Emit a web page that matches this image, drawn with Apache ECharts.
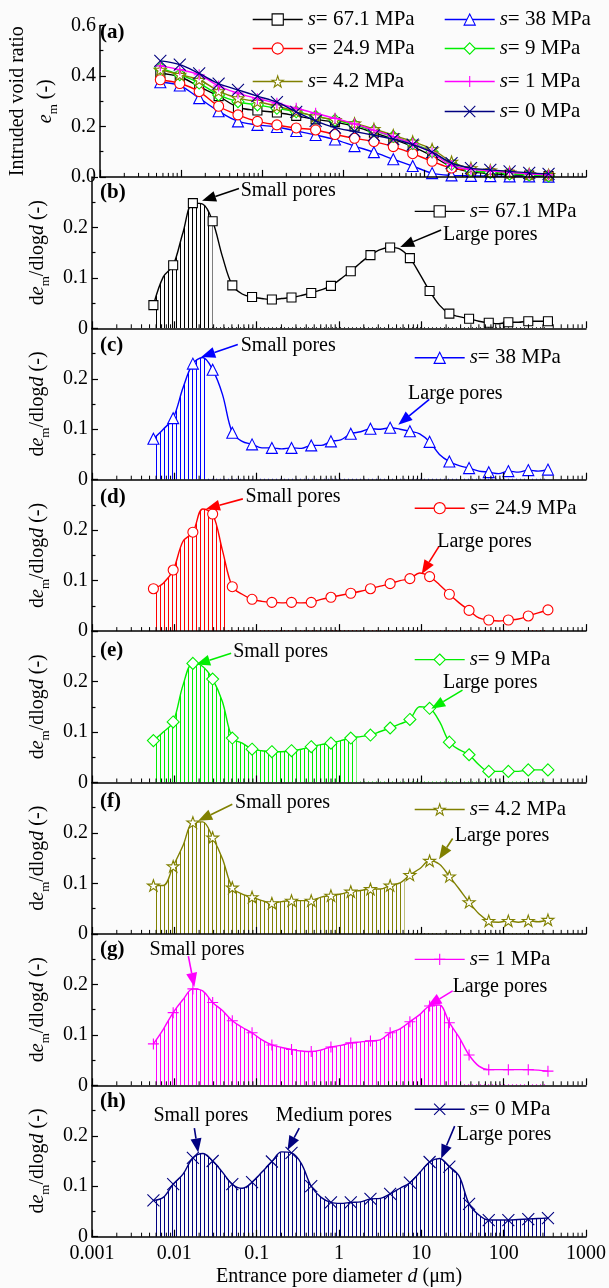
<!DOCTYPE html>
<html><head><meta charset="utf-8">
<script src="https://cdn.jsdelivr.net/npm/echarts@6/dist/echarts.min.js"></script>
<style>html,body{margin:0;padding:0;background:#fbfbfb}#c{width:609px;height:1288px}</style>
</head><body><div id="c"></div>
<script>
// ---------- data ----------
const dMarkers = [0.00557, 0.00968, 0.0168, 0.0292, 0.0506, 0.0879, 0.153, 0.265, 0.460, 0.798, 1.39, 2.41, 4.18, 7.26, 12.6, 21.9, 38.0, 65.9, 114, 199, 345];
const dMid = [0.00734, 0.01275, 0.0221, 0.0384, 0.0667, 0.116, 0.201, 0.349, 0.606, 1.05, 1.83, 3.17, 5.51, 9.55, 16.6, 28.8, 50.0, 86.9, 151, 262];

// panel (a): intruded void ratio
const a67 = [0.41, 0.397, 0.358, 0.32, 0.276, 0.263, 0.255, 0.242, 0.228, 0.217, 0.2, 0.175, 0.15, 0.12, 0.083, 0.04, 0.02, 0.013, 0.008, 0.005, 0.003];
const a38 = [0.375, 0.362, 0.312, 0.26, 0.22, 0.206, 0.198, 0.182, 0.166, 0.148, 0.122, 0.098, 0.07, 0.043, 0.015, 0.006, 0.004, 0.003, 0.002, 0.002, 0.001];
const a249 = [0.385, 0.37, 0.338, 0.28, 0.246, 0.22, 0.206, 0.194, 0.186, 0.168, 0.153, 0.14, 0.12, 0.092, 0.062, 0.035, 0.025, 0.018, 0.012, 0.007, 0.004];
const a9 = [0.43, 0.405, 0.372, 0.325, 0.298, 0.285, 0.272, 0.258, 0.24, 0.225, 0.205, 0.183, 0.16, 0.132, 0.1, 0.05, 0.025, 0.018, 0.012, 0.008, 0.004];
const a42 = [0.425, 0.405, 0.385, 0.34, 0.312, 0.298, 0.28, 0.26, 0.24, 0.226, 0.212, 0.19, 0.165, 0.14, 0.11, 0.06, 0.035, 0.026, 0.018, 0.012, 0.008];
const a1 = [0.44, 0.425, 0.405, 0.36, 0.332, 0.31, 0.292, 0.272, 0.252, 0.232, 0.21, 0.185, 0.16, 0.132, 0.095, 0.045, 0.03, 0.024, 0.018, 0.012, 0.008];
const a0 = [0.46, 0.445, 0.41, 0.37, 0.345, 0.32, 0.296, 0.258, 0.222, 0.195, 0.18, 0.165, 0.15, 0.128, 0.098, 0.055, 0.035, 0.028, 0.022, 0.016, 0.012];

// panels (b)-(h): de_m/dlogd at the markers and between them
const b67 = [0.046, 0.125, 0.248, 0.212, 0.085, 0.062, 0.057, 0.061, 0.070, 0.084, 0.113, 0.145, 0.160, 0.139, 0.074, 0.029, 0.019, 0.011, 0.012, 0.014, 0.014];
const b67Mid = [0.102, 0.19, 0.246, 0.142, 0.068, 0.059, 0.059, 0.065, 0.076, 0.098, 0.130, 0.156, 0.157, 0.108, 0.046, 0.023, 0.014, 0.009, 0.012, 0.014];
const c38 = [0.081, 0.122, 0.23, 0.218, 0.093, 0.07, 0.063, 0.063, 0.068, 0.076, 0.091, 0.101, 0.103, 0.096, 0.075, 0.036, 0.023, 0.015, 0.017, 0.019, 0.02];
const c38Mid = [0.1, 0.182, 0.242, 0.169, 0.076, 0.063, 0.061, 0.062, 0.068, 0.079, 0.095, 0.1, 0.1, 0.091, 0.05, 0.028, 0.017, 0.012, 0.015, 0.017];
const d249 = [0.084, 0.121, 0.196, 0.232, 0.088, 0.063, 0.057, 0.057, 0.057, 0.067, 0.075, 0.084, 0.094, 0.104, 0.108, 0.073, 0.041, 0.022, 0.022, 0.03, 0.042];
const d249Mid = [0.095, 0.178, 0.242, 0.16, 0.073, 0.059, 0.056, 0.056, 0.063, 0.071, 0.079, 0.089, 0.1, 0.115, 0.092, 0.056, 0.026, 0.02, 0.024, 0.036];
const e9 = [0.083, 0.12, 0.236, 0.205, 0.088, 0.066, 0.061, 0.063, 0.071, 0.078, 0.088, 0.094, 0.108, 0.125, 0.147, 0.08, 0.055, 0.022, 0.022, 0.025, 0.025];
const e9Mid = [0.1, 0.193, 0.23, 0.16, 0.078, 0.063, 0.061, 0.066, 0.075, 0.083, 0.091, 0.101, 0.116, 0.15, 0.121, 0.065, 0.035, 0.022, 0.022, 0.025];
const f42 = [0.096, 0.134, 0.221, 0.191, 0.092, 0.073, 0.061, 0.066, 0.066, 0.076, 0.084, 0.089, 0.096, 0.117, 0.145, 0.114, 0.063, 0.026, 0.026, 0.026, 0.028];
const f42Mid = [0.096, 0.175, 0.222, 0.149, 0.079, 0.066, 0.064, 0.066, 0.073, 0.079, 0.086, 0.089, 0.101, 0.129, 0.138, 0.089, 0.04, 0.023, 0.023, 0.024];
const g1 = [0.082, 0.144, 0.191, 0.164, 0.128, 0.104, 0.08, 0.071, 0.067, 0.076, 0.084, 0.088, 0.104, 0.126, 0.157, 0.124, 0.06, 0.031, 0.031, 0.031, 0.028];
const g1Mid = [0.111, 0.17, 0.187, 0.148, 0.115, 0.09, 0.075, 0.068, 0.07, 0.079, 0.086, 0.09, 0.112, 0.14, 0.159, 0.095, 0.038, 0.031, 0.031, 0.030];
const h0 = [0.072, 0.104, 0.156, 0.15, 0.104, 0.108, 0.149, 0.166, 0.1, 0.068, 0.068, 0.075, 0.085, 0.107, 0.148, 0.139, 0.065, 0.033, 0.033, 0.035, 0.037];
const h0Mid = [0.078, 0.124, 0.165, 0.128, 0.096, 0.128, 0.168, 0.145, 0.078, 0.066, 0.069, 0.076, 0.096, 0.127, 0.155, 0.12, 0.043, 0.033, 0.034, 0.036];

// upper diameter limit of the hatched range in each panel (b..h)
const hatchEnds = [0.028, 0.023, 0.041, 1.6, 6.0, 30, 345];

// tick labels
const xTickLabels = ['0.001', '0.01', '0.1', '1', '10', '100', '1000'];
const xMinorMult = [2, 3, 4, 5, 6, 7, 8, 9];
const xDecades = [0.001, 0.01, 0.1, 1, 10, 100];
const yTickLabelsA = ['0.0', '0.2', '0.4', '0.6'];
const yTickLabelsB = ['0', '0.1', '0.2', ''];
const seriesNames = ['s= 67.1 MPa', 's= 38 MPa', 's= 24.9 MPa', 's= 9 MPa', 's= 4.2 MPa', 's= 1 MPa', 's= 0 MPa'];

// ---------- styles / layout ----------
const FONT = '"Liberation Serif", "Times New Roman", serif';
const BG = '#fbfbfb';
const FS = 20;
const GL = 92, GR = 23, TOP = 25.5, PH = 151.4;
const STAR = 'path://M50,2 L61.2,36.2 L97,36.2 L68,57.4 L79,91.6 L50,70.4 L21,91.6 L32,57.4 L3,36.2 L38.8,36.2 Z';
const PLUS = 'path://M0,50 L100,50 M50,0 L50,100';
const CROSS = 'path://M0,0 L100,100 M100,0 L0,100';
const styles = [
  {color: '#000000', symbol: 'rect', size: 9, fill: '#fff'},
  {color: '#0000ff', symbol: 'triangle', size: 11, fill: '#fff'},
  {color: '#ff0000', symbol: 'circle', size: 10, fill: '#fff'},
  {color: '#00ee00', symbol: 'diamond', size: 12, fill: '#fff'},
  {color: '#808000', symbol: STAR, size: 12, fill: '#fff'},
  {color: '#ff00ff', symbol: PLUS, size: 11, fill: 'rgba(0,0,0,0)'},
  {color: '#000080', symbol: CROSS, size: 12, fill: 'rgba(0,0,0,0)'}
];
const aData = [a67, a38, a249, a9, a42, a1, a0];
const bhData = [[b67, b67Mid], [c38, c38Mid], [d249, d249Mid], [e9, e9Mid], [f42, f42Mid], [g1, g1Mid], [h0, h0Mid]];
const panelLabels = ['(a)', '(b)', '(c)', '(d)', '(e)', '(f)', '(g)', '(h)'];
const labelOffsets = [9, 17, 19, 19, 21, 21, 17, 18];
const legendOffsetsBH = [36, 31, 30, 30, 28.5, 27, 25.5];

// annotation positions in data coordinates (diameter, value)
const annotations = [
  {texts: [['Small pores', 0.064, 0.273], ['Large pores', 18.3, 0.186]],
   arrows: [[[0.061, 0.277], [0.0217, 0.2526]], [[17.4, 0.195], [5.55, 0.161]]]},
  {texts: [['Small pores', 0.064, 0.265], ['Large pores', 6.9, 0.170]],
   arrows: [[[0.059, 0.268], [0.0212, 0.243]], [[12.5, 0.159], [5.25, 0.109]]]},
  {texts: [['Small pores', 0.0733, 0.266], ['Large pores', 15.6, 0.178]],
   arrows: [[[0.0679, 0.262], [0.0242, 0.242]], [[16.4, 0.168], [10.1, 0.113]]]},
  {texts: [['Small pores', 0.0518, 0.259], ['Large pores', 18.3, 0.197]],
   arrows: [[[0.049, 0.256], [0.0184, 0.234]], [[31.6, 0.183], [13.2, 0.146]]]},
  {texts: [['Small pores', 0.0547, 0.259], ['Large pores', 25.4, 0.195]],
   arrows: [[[0.0506, 0.257], [0.0195, 0.224]], [[24.0, 0.189], [16.4, 0.148]]]},
  {texts: [['Small pores', 0.0050, 0.269], ['Large pores', 24.0, 0.195]],
   arrows: [[[0.0148, 0.256], [0.0175, 0.195]], [[24.0, 0.187], [11.9, 0.157]]]},
  {texts: [['Small pores', 0.00557, 0.239], ['Medium pores', 0.171, 0.239], ['Large pores', 26.9, 0.203]],
   arrows: [[[0.0175, 0.215], [0.0195, 0.167]], [[0.329, 0.215], [0.237, 0.172]], [[25.4, 0.219], [17.4, 0.155]]]}
];

const chart = echarts.init(document.getElementById('c'), null, {width: 609, height: 1288});
const plotW = 609 - GL - GR;
const hatchStep = Math.max(3, Math.floor(plotW / 6 * 0.2396 / 4));
function hatchPattern(color) {
  const c = document.createElement('canvas');
  c.width = hatchStep; c.height = 8;
  const g = c.getContext('2d');
  g.fillStyle = color; g.fillRect(0, 0, 1, 8);
  return c;
}
const xMinor = [];
xDecades.forEach(d => xMinorMult.forEach(m => xMinor.push(d * m)));

const richBase = {
  n: {fontFamily: FONT, fontSize: FS, color: '#000', lineHeight: 28},
  i: {fontFamily: FONT, fontSize: FS, fontStyle: 'italic', color: '#000', lineHeight: 28},
  s: {fontFamily: FONT, fontSize: 13, color: '#000', lineHeight: 13, verticalAlign: 'bottom'}
};

const grid = [], xAxis = [], yAxis = [], series = [], legend = [], graphic = [];
for (let g = 0; g < 8; g++) {
  grid.push({left: GL, right: GR, top: TOP + g * PH, height: PH});
  xAxis.push({
    gridIndex: g, type: 'log', logBase: 10, min: 0.001, max: 1000, z: 5,
    axisLine: {onZero: false, lineStyle: {color: '#000', width: 1.5}},
    axisTick: {inside: true, length: 7, lineStyle: {color: '#000', width: 1.2}},
    splitLine: {show: false},
    axisLabel: {show: g === 7, color: '#000', fontFamily: FONT, fontSize: FS, margin: 7,
      formatter: v => xTickLabels[Math.round(Math.log10(v)) + 3]},
    name: g === 7 ? '{n|Entrance pore diameter }{i|d}{n| (μm)}' : '',
    nameLocation: 'middle', nameGap: 26,
    nameTextStyle: {rich: richBase}
  });
  const isA = g === 0;
  yAxis.push({
    gridIndex: g, type: 'value', min: 0, max: isA ? 0.6 : 0.3, interval: isA ? 0.2 : 0.1, z: 5,
    axisLine: {show: true, lineStyle: {color: '#000', width: 1.5}},
    axisTick: {inside: true, length: 6, lineStyle: {color: '#000', width: 1.2}},
    minorTick: {show: true, splitNumber: 2, length: 3.5, lineStyle: {color: '#000', width: 1.2}},
    splitLine: {show: false},
    axisLabel: {color: '#000', fontFamily: FONT, fontSize: FS, margin: 4,
      formatter: v => isA ? yTickLabelsA[Math.round(v / 0.2)] : yTickLabelsB[Math.round(v / 0.1)]},
    name: isA ? '{n|Intruded void ratio}\n{i|e}{s|m}{n| (-)}' : '{n|d}{i|e}{s|m}{n|/dlog}{i|d}{n| (-)}',
    nameLocation: 'middle', nameRotate: 90, nameGap: isA ? 31 : 39,
    nameTextStyle: {rich: richBase}
  });
  // minor x ticks
  series.push({
    type: 'custom', xAxisIndex: g, yAxisIndex: g, z: 5, silent: true,
    data: xMinor.map(v => [v, 0]),
    renderItem: (p, api) => {
      const c = api.coord([api.value(0), 0]);
      return {type: 'line', shape: {x1: c[0], y1: c[1], x2: c[0], y2: c[1] - 4},
        style: {stroke: '#000', lineWidth: 1}};
    }
  });
  graphic.push({type: 'text', left: 100, top: TOP + g * PH + labelOffsets[g] - 12, z: 10,
    style: {text: panelLabels[g], font: 'bold 21px ' + FONT, fill: '#000'}});
}

// panel (a)
aData.forEach((arr, k) => {
  const st = styles[k];
  series.push({
    type: 'line', name: seriesNames[k], xAxisIndex: 0, yAxisIndex: 0, z: 3 + k * 0.01,
    smooth: 0.35, symbol: st.symbol, symbolSize: st.size, symbolKeepAspect: true, showAllSymbol: true,
    data: dMarkers.map((d, i) => [d, arr[i]]),
    lineStyle: {color: st.color, width: 1.4},
    itemStyle: {color: st.fill, borderColor: st.color, borderWidth: 1.1}
  });
});
const legPosA = [[252, 9], [444, 9], [252, 38], [444, 38], [252, 71], [444, 71], [444, 101]];
seriesNames.forEach((n, k) => legend.push(mkLegend(n, legPosA[k][0], legPosA[k][1])));

function mkLegend(name, left, top) {
  return {
    data: [{name}], left, top, orient: 'horizontal', itemWidth: 50, itemHeight: 14, itemGap: 0,
    padding: 0, selectedMode: false, z: 8,
    itemStyle: {borderWidth: 1.1}, lineStyle: {width: 1.4},
    formatter: n => '{i|s}{n|' + n.slice(1) + '}',
    textStyle: {rich: {
      i: {fontFamily: FONT, fontSize: 21, fontStyle: 'italic', color: '#000'},
      n: {fontFamily: FONT, fontSize: 21, color: '#000'}}}
  };
}

// panels (b)-(h)
bhData.forEach((pair, k) => {
  const g = k + 1, st = styles[k];
  const [vals, mids] = pair;
  const pts = [];
  dMarkers.forEach((d, i) => {
    pts.push({value: [d, vals[i]]});
    if (i < mids.length) pts.push({value: [dMid[i], mids[i]], symbol: 'none'});
  });
  // hatch (drop lines) under the curve
  series.push({
    type: 'line', name: 'hatch' + g, xAxisIndex: g, yAxisIndex: g, z: 1, silent: true,
    smooth: 0.35, symbol: 'none', data: pts.map(p => p.value),
    lineStyle: {width: 0, opacity: 0},
    areaStyle: {color: {image: hatchPattern(st.color), repeat: 'repeat'}, opacity: 1}
  });
  const hEnd = hatchEnds[k];
  if (hEnd < dMarkers[dMarkers.length - 1]) {
    series.push({
      type: 'custom', xAxisIndex: g, yAxisIndex: g, z: 2, silent: true,
      data: [[hEnd, 0]],
      renderItem: (p, api) => {
        const a = api.coord([api.value(0), 0.3]);
        const b = api.coord([1000, 0]);
        const x0 = Math.ceil(a[0]) + 0.5;
        return {type: 'rect', shape: {x: x0, y: a[1] + 1, width: b[0] - x0, height: b[1] - a[1] - 2},
          style: {fill: BG}};
      }
    });
  }
  series.push({
    type: 'line', name: seriesNames[k], xAxisIndex: g, yAxisIndex: g, z: 3,
    smooth: 0.35, symbol: st.symbol, symbolSize: st.size, symbolKeepAspect: true, showAllSymbol: true,
    data: pts,
    lineStyle: {color: st.color, width: 1.4},
    itemStyle: {color: st.fill, borderColor: st.color, borderWidth: 1.1}
  });
  // annotations
  const an = annotations[k];
  series.push({
    type: 'custom', xAxisIndex: g, yAxisIndex: g, z: 6, silent: true,
    data: an.arrows.map(a => [a[0][0], a[0][1], a[1][0], a[1][1]]),
    renderItem: (p, api) => {
      const p1 = api.coord([api.value(0), api.value(1)]);
      const p2 = api.coord([api.value(2), api.value(3)]);
      const dx = p2[0] - p1[0], dy = p2[1] - p1[1], L = Math.hypot(dx, dy);
      const ux = dx / L, uy = dy / L, hl = 14, hw = 5.5;
      const bx = p2[0] - ux * hl, by = p2[1] - uy * hl;
      return {type: 'group', children: [
        {type: 'line', shape: {x1: p1[0], y1: p1[1], x2: bx, y2: by}, style: {stroke: st.color, lineWidth: 1.6}},
        {type: 'polygon', shape: {points: [[p2[0], p2[1]], [bx - uy * hw, by + ux * hw], [bx + uy * hw, by - ux * hw]]},
          style: {fill: st.color}}
      ]};
    }
  });
  series.push({
    type: 'custom', xAxisIndex: g, yAxisIndex: g, z: 6, silent: true,
    data: an.texts.map(t => [t[1], t[2]]),
    renderItem: (p, api) => {
      const c = api.coord([api.value(0), api.value(1)]);
      return {type: 'text', x: c[0], y: c[1],
        style: {text: an.texts[p.dataIndex][0], fill: '#000', font: FS + 'px ' + FONT, align: 'left', verticalAlign: 'middle'}};
    }
  });
  legend.push(mkLegend(seriesNames[k], 414, TOP + g * PH + legendOffsetsBH[k] - 12));
});

chart.setOption({
  backgroundColor: BG, animation: false,
  grid, xAxis, yAxis, series, legend, graphic
});
</script></body></html>
